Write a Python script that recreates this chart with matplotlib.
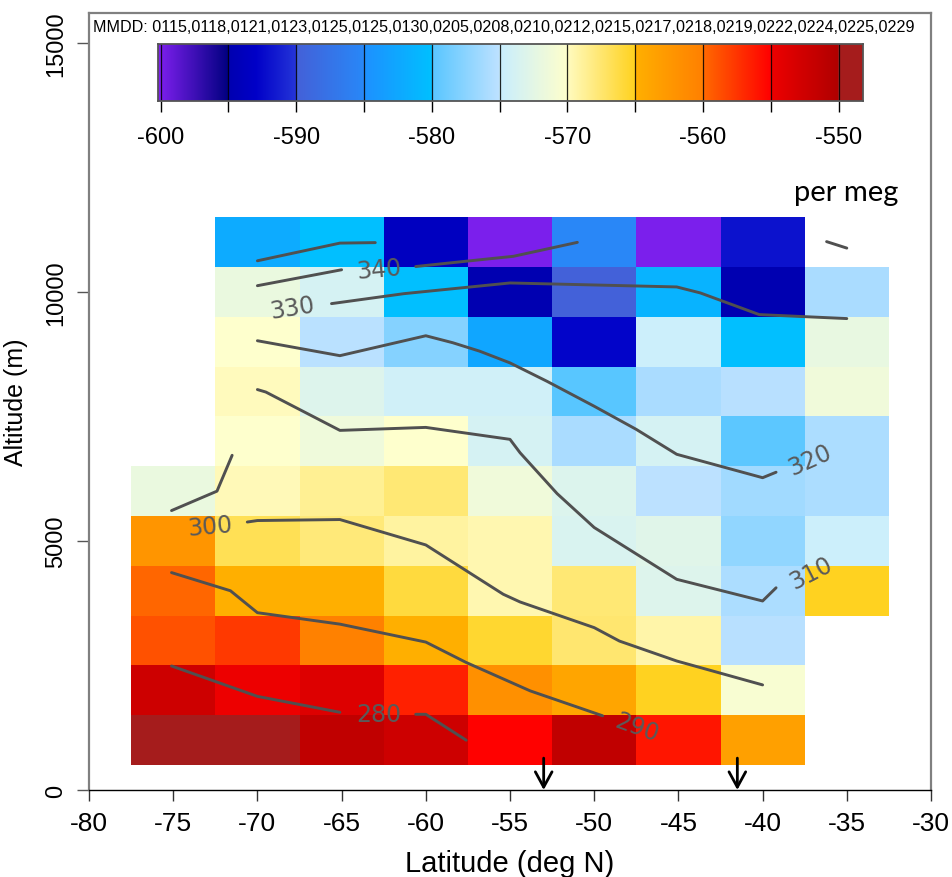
import numpy as np
import matplotlib
matplotlib.use("Agg")
import matplotlib.pyplot as plt
from matplotlib.colors import ListedColormap, Normalize, to_rgb

plt.rcParams['font.family'] = ['Liberation Sans', 'DejaVu Sans']
plt.rcParams['axes.unicode_minus'] = False

# ---------------------------------------------------------------- data
lat_centers = [-75, -70, -65, -60, -55, -50, -45, -40, -35]
alt_centers = [1000, 2000, 3000, 4000, 5000, 6000, 7000, 8000, 9000, 10000, 11000]
nan = np.nan
# delta(O2/N2) in per meg; rows follow alt_centers, columns follow lat_centers
do2n2 = [
    [-549.0, -549.0, -551.3, -552.3, -555.05, -551.3, -556.0, -563.3, nan],
    [-552.3, -554.9, -553.6, -556.5, -561.7, -563.85, -565.05, -570.6, nan],
    [-558.8, -557.7, -560.1, -564.9, -565.55, -567.5, -569.3, -575.3, nan],
    [-559.8, -564.9, -564.9, -566.0, -569.5, -567.65, -573.1, -575.9, -565.05],
    [-562.2, -566.7, -567.8, -569.0, -569.5, -573.5, -572.8, -577.2, -574.6],
    [-571.9, -569.75, -568.6, -567.65, -571.4, -573.2, -575.1, -576.4, -575.9],
    [nan, -570.1, -571.5, -570.1, -573.8, -576.0, -573.8, -579.8, -575.9],
    [nan, -569.9, -573.1, -574.3, -574.3, -580.0, -576.0, -575.3, -571.4],
    [nan, -570.1, -575.2, -577.8, -582.7, -592.8, -574.6, -580.1, -572.1],
    [nan, -571.9, -573.8, -580.1, -594.9, -589.9, -581.4, -594.95, -576.0],
    [nan, -582.2, -580.1, -593.7, -600.0, -585.1, -600.0, -592.0, nan],
]

# colour scale: (value, colour); repeated values give a step
scale_values = [-600.2, -595, -595, -593, -590, -590, -585, -585, -580, -580, -575,
                -575, -570, -570, -565, -565, -560, -560, -555, -555, -550, -550, -548.2]
scale_colors = ['#8020F0', '#000080', '#0000B0', '#0000C8', '#2535D8', '#4460D8', '#2888F8',
                '#1E90FF', '#00C0FF', '#58C6FF', '#BEE2FF', '#C8EEFF', '#FFFFCC', '#FFFBC0',
                '#FFD21E', '#FFB000', '#FF8000', '#FF6A00', '#FF0000', '#EE0000', '#B00000',
                '#A51C1C', '#A51C1C']
cbar_ticks = [-600, -590, -580, -570, -560, -550]

mmdd = ['0115', '0118', '0121', '0123', '0125', '0125', '0130', '0205', '0208', '0210',
        '0212', '0215', '0217', '0218', '0219', '0222', '0224', '0225', '0229']

# potential temperature isolines (K): pieces of (latitude, altitude)
theta_280 = [([-75.1, -70.0, -65.1], [2490, 1880, 1560]),
             ([-60.6, -60.0, -57.6], [1520, 1520, 1000])]
theta_290 = [([-75.1, -71.6, -70.0, -65.1, -60.0, -57.6, -53.8, -49.5],
              [4365, 4000, 3560, 3330, 2970, 2560, 1990, 1490])]
theta_300 = [([-75.1, -72.4, -71.5], [5610, 6000, 6720]),
             ([-70.6, -70.0, -65.1, -60.0, -55.4, -54.4, -50.0, -48.5, -45.1, -40.0],
              [5380, 5410, 5430, 4920, 3930, 3775, 3260, 2990, 2590, 2110])]
theta_310 = [([-70.0, -69.5, -65.1, -60.0, -55.0, -54.4, -52.2, -50.0, -45.1, -40.0, -39.2],
              [8040, 7990, 7220, 7280, 7040, 6770, 5950, 5270, 4230, 3795, 4060])]
theta_320 = [([-70.0, -65.1, -60.0, -58.4, -56.8, -55.0, -52.8, -50.0, -47.5, -45.1, -40.0, -39.2],
              [9020, 8720, 9120, 8980, 8810, 8575, 8205, 7705, 7240, 6740, 6270, 6380])]
theta_330 = [([-70.0, -65.0], [10125, 10445]),
             ([-65.6, -61.3, -55.0, -45.1, -43.7, -40.2, -35.0],
              [9765, 9965, 10180, 10100, 9980, 9545, 9465])]
theta_340 = [([-70.0, -65.1, -63.0], [10625, 10980, 10990]),
             ([-60.6, -56.8, -54.8, -51.0], [10510, 10645, 10715, 10995]),
             ([-36.2, -35.0], [11010, 10880])]
isolines = [theta_280, theta_290, theta_300, theta_310, theta_320, theta_330, theta_340]

# label text, latitude, altitude, angle
theta_labels = [('280', -62.8, 1525, 0), ('290', -47.5, 1260, -20),
                ('300', -72.8, 5290, 5), ('310', -37.1, 4370, 27),
                ('320', -37.2, 6640, 24), ('330', -67.9, 9680, 9),
                ('340', -62.8, 10460, 5)]

flight_lats = [-53.0, -41.5]

# ---------------------------------------------------------------- colour map
grid = np.linspace(scale_values[0], scale_values[-1], 2081)
rgb = np.array([to_rgb(c) for c in scale_colors])
cols = np.column_stack([np.interp(grid, scale_values, rgb[:, k]) for k in range(3)])
cmap = ListedColormap(cols)
norm = Normalize(scale_values[0], scale_values[-1])

# ---------------------------------------------------------------- figure
W, H = 953, 878
fig = plt.figure(figsize=(W / 100, H / 100), dpi=100)
ax = fig.add_axes([89 / W, 1 - 791 / H, (931 - 89) / W, (791 - 14) / H])

lat_edges = np.append(np.array(lat_centers) - 2.5, lat_centers[-1] + 2.5)
alt_edges = np.append(np.array(alt_centers) - 500, alt_centers[-1] + 500)
vals = np.ma.masked_invalid(np.array(do2n2))
ax.pcolormesh(lat_edges, alt_edges, vals, cmap=cmap, norm=norm,
              shading='flat', antialiased=False, edgecolors='face', linewidth=0)

line_col = '#505050'
for pieces in isolines:
    for la, al in pieces:
        ax.plot(la, al, color=line_col, lw=2.1, solid_capstyle='round',
                solid_joinstyle='round', zorder=3)
for txt, la, al, ang in theta_labels:
    ax.text(la, al, txt, color='#5a5a5a', fontsize=17, rotation=ang,
            family='DejaVu Sans', ha='center', va='center', zorder=4)

for la in flight_lats:
    ax.annotate('', xy=(la, 0), xytext=(la, 640),
                arrowprops=dict(arrowstyle='->,head_length=0.55,head_width=0.3',
                                lw=2, color='black', shrinkA=0, shrinkB=0,
                                mutation_scale=20), zorder=5)

ax.set_xlim(-80, -30)
ax.set_ylim(0, 15600)
ax.set_xticks(np.arange(-80, -29, 5))
ax.set_yticks([0, 5000, 10000, 15000])
for s in ['top', 'left', 'right']:
    ax.spines[s].set_color('#808080')
    ax.spines[s].set_linewidth(1.6)
ax.spines['bottom'].set_color('black')
ax.spines['bottom'].set_linewidth(1.0)
ax.tick_params(axis='x', direction='out', length=8, width=1, color='#333333',
               labelsize=19, pad=7)
ax.tick_params(axis='y', direction='out', length=9, width=1, color='#555555',
               labelsize=17, pad=7)
for lab in ax.get_yticklabels():
    lab.set_rotation(90)
    lab.set_va('center')
ax.set_xlabel('Latitude (deg N)', fontsize=21, labelpad=10)
ax.set_ylabel('Altitude (m)', fontsize=18, labelpad=12)

# colour bar inside the top of the panel
cax = fig.add_axes([158 / W, 1 - 102 / H, (863 - 158) / W, (102 - 45) / H])
bar = np.linspace(scale_values[0], scale_values[-1], 2081)[None, :]
cax.imshow(bar, cmap=cmap, norm=norm, aspect='auto',
           extent=(scale_values[0], scale_values[-1], 0, 1), interpolation='nearest')
for v in np.arange(-600, -549, 5):
    cax.axvline(v, color='black', lw=0.9, alpha=0.85)
cax.set_xlim(scale_values[0], scale_values[-1])
cax.set_ylim(0, 1)
cax.set_yticks([])
cax.set_xticks(cbar_ticks)
cax.set_xticks(np.arange(-600, -549, 5), minor=True)
cax.tick_params(axis='x', which='both', direction='out', length=8, width=1,
                color='black', labelsize=17, pad=10)
for s in cax.spines.values():
    s.set_color('#555555')
    s.set_linewidth(1.3)

fig.text(93 / W, 1 - 27 / H, 'MMDD: ' + ','.join(mmdd), fontsize=11.6,
         ha='left', va='center')
fig.text(846 / W, 1 - 193 / H, 'per meg', fontsize=21, family=['Lato', 'DejaVu Sans'],
         ha='center', va='center')

fig.savefig('out.png', dpi=100)
